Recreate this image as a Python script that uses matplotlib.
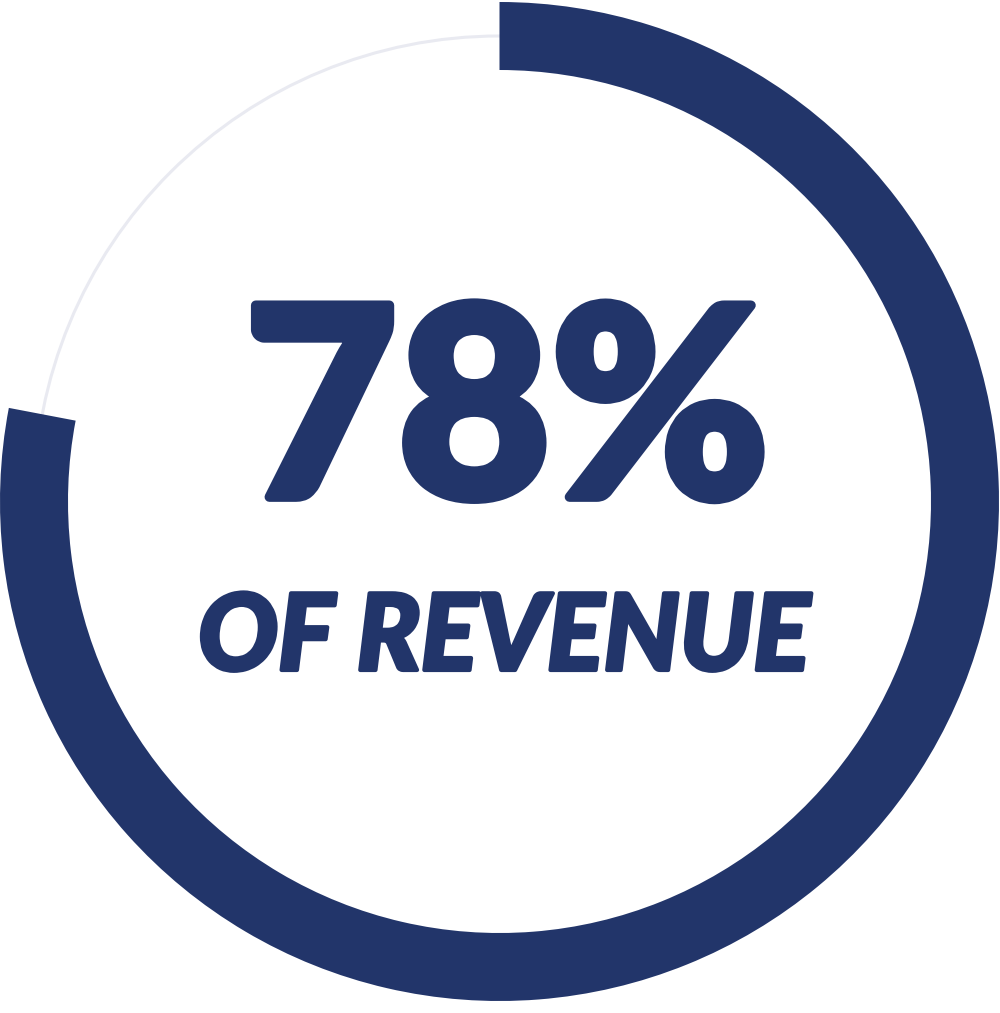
import matplotlib
matplotlib.use('Agg')
import matplotlib.pyplot as plt
import matplotlib.patheffects as pe
from matplotlib.patches import Circle

# chart values
share = 78
rest = 100 - share
big_label = f'{share}%'
sub_label = 'OF REVENUE'

navy = '#22356A'
track = '#E9EAF1'

W, H = 1000, 1013
fig = plt.figure(figsize=(W / 100, H / 100), dpi=100)
ax = fig.add_axes([0, 0, 1, 1])

cx, cy = 499.5, H - 501.5
R = 499.5
ring = 68

# thin background track
ax.add_patch(Circle((cx, cy), R - ring / 2, fill=False, edgecolor=track,
                    linewidth=2.2, zorder=1))

ax.pie([share, rest], colors=[navy, 'none'], startangle=90, counterclock=False,
       radius=R, center=(cx, cy), frame=True,
       wedgeprops=dict(width=ring, linewidth=0, zorder=2))

ax.set_xlim(0, W)
ax.set_ylim(0, H)
ax.set_aspect('equal')
ax.set_axis_off()

fam = ['Lato', 'DejaVu Sans']
t1 = ax.text(507, H - 497, big_label, ha='center', va='baseline', color=navy,
             fontsize=190, fontweight='black', family=fam, zorder=3,
             path_effects=[pe.withStroke(linewidth=7, foreground=navy)])
t2 = ax.text(504, H - 670, sub_label, ha='center', va='baseline', color=navy,
             fontsize=70, fontweight='black', fontstyle='italic', family=fam,
             zorder=3,
             path_effects=[pe.withStroke(linewidth=3, foreground=navy)])

# scale the two labels to the width they have in the reference
fig.canvas.draw()
r = fig.canvas.get_renderer()
for t, tw in [(t1, 525), (t2, 612)]:
    bb = t.get_window_extent(r)
    t.set_fontsize(t.get_fontsize() * tw / bb.width)

fig.savefig('out.png', dpi=100, facecolor='white')
